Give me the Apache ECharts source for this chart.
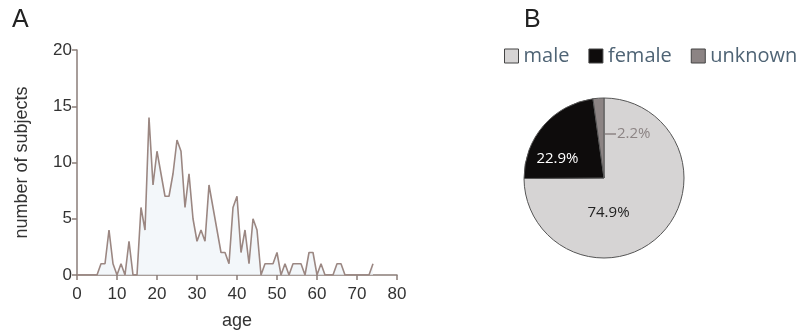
<!DOCTYPE html>
<html>
<head>
<meta charset="utf-8">
<script src="https://cdn.jsdelivr.net/npm/echarts@6/dist/echarts.min.js"></script>
<style>
  html, body { margin: 0; padding: 0; background: #fff; }
  #main { width: 801px; height: 335px; }
</style>
</head>
<body>
<div id="main"></div>
<script>
// panel A: subjects per year of age
var ages = [];
for (var a = 0; a <= 74; a++) ages.push(a);
var subjects = [
  0, 0, 0, 0, 0, 0, 1, 1, 4, 1,
  0, 1, 0, 3, 0, 0, 6, 4, 14, 8,
  11, 9, 7, 7, 9, 12, 11, 6, 9, 5,
  3, 4, 3, 8, 6, 4, 2, 2, 1, 6,
  7, 2, 4, 1, 5, 4, 0, 1, 1, 1,
  2, 0, 1, 0, 1, 1, 1, 0, 2, 2,
  0, 1, 0, 0, 0, 1, 1, 0, 0, 0,
  0, 0, 0, 0, 1
];
var xTicks = [0, 10, 20, 30, 40, 50, 60, 70, 80];
var yTicks = [0, 5, 10, 15, 20];

// panel B: sex split (percent)
var sexNames = ['male', 'female', 'unknown'];
var sexShares = [74.9, 22.9, 2.2];
var sexColors = ['#d6d4d4', '#0e0c0c', '#8c8484'];

var chart = echarts.init(document.getElementById('main'));

var axisColor = '#8a7d78';
var font = 'Liberation Sans, Arial, sans-serif';
var lineData = ages.map(function (age, i) { return [age, subjects[i]]; });

// nudge the inside labels to where the original puts them
var labelShift = [[-26, 4], [-14, 9], [0, 0]];

var option = {
  animation: false,
  title: [
    { text: 'A', left: 7, top: 3, textStyle: { fontFamily: font, fontSize: 25, fontWeight: 'normal', color: '#222' } },
    { text: 'B', left: 519, top: 3, textStyle: { fontFamily: font, fontSize: 25, fontWeight: 'normal', color: '#222' } }
  ],
  legend: {
    data: sexNames,
    left: 504,
    top: 46,
    width: 297,
    padding: 0,
    itemWidth: 14,
    itemHeight: 14,
    itemGap: 19,
    icon: 'rect',
    textStyle: { fontFamily: 'Open Sans', fontSize: 20, color: '#4f6475' },
    itemStyle: { borderColor: '#444', borderWidth: 1 }
  },
  grid: { left: 77, right: 404, top: 50, bottom: 57 },
  xAxis: {
    type: 'value',
    min: 0,
    max: 80,
    interval: 10,
    name: 'age',
    nameLocation: 'middle',
    nameGap: 37,
    nameTextStyle: { fontFamily: font, fontSize: 18, color: '#333' },
    axisLine: { lineStyle: { color: axisColor, width: 1.5 } },
    axisTick: { length: 5, lineStyle: { color: axisColor, width: 1.5 } },
    axisLabel: { fontFamily: font, fontSize: 17, color: '#333', margin: 11,
      formatter: function (v) { return xTicks.indexOf(v) >= 0 ? String(v) : ''; } },
    splitLine: { show: false }
  },
  yAxis: {
    type: 'value',
    min: 0,
    max: 20,
    interval: 5,
    name: 'number of subjects',
    nameLocation: 'middle',
    nameRotate: 90,
    nameGap: 46,
    nameTextStyle: { fontFamily: font, fontSize: 18, color: '#333' },
    axisLine: { show: true, lineStyle: { color: axisColor, width: 1.5 } },
    axisTick: { show: true, length: 5, lineStyle: { color: axisColor, width: 1.5 } },
    axisLabel: { fontFamily: font, fontSize: 17, color: '#333', margin: 5,
      formatter: function (v) { return yTicks.indexOf(v) >= 0 ? String(v) : ''; } },
    splitLine: { show: false }
  },
  // short leader line for the 2.2% label
  graphic: [
    { type: 'line', shape: { x1: 605, y1: 134, x2: 616, y2: 134 }, style: { stroke: '#8c8484', lineWidth: 1.5 }, z: 10 }
  ],
  series: [
    {
      type: 'line',
      data: lineData,
      showSymbol: false,
      lineStyle: { color: '#9b8782', width: 1.6 },
      areaStyle: { color: '#eef3f8' }
    },
    {
      type: 'pie',
      center: [604, 178],
      radius: [0, 80],
      startAngle: 90,
      clockwise: true,
      data: sexNames.map(function (n, i) {
        return { name: n, value: sexShares[i], itemStyle: { color: sexColors[i] } };
      }),
      itemStyle: { borderColor: '#555', borderWidth: 1 },
      label: {
        position: 'inside',
        fontFamily: 'Open Sans',
        fontSize: 15,
        formatter: function (p) { return p.value.toFixed(1) + '%'; }
      },
      labelLine: { show: false },
      labelLayout: function (p) {
        if (p.dataIndex === 2) {
          return { x: 617, y: 134, align: 'left', verticalAlign: 'middle' };
        }
        var s = labelShift[p.dataIndex];
        return { dx: s[0], dy: s[1] };
      },
      emphasis: { disabled: true }
    }
  ]
};

// per-slice label colours
option.series[1].data[0].label = { color: '#222' };
option.series[1].data[1].label = { color: '#fff' };
option.series[1].data[2].label = { color: '#8c8484' };

chart.setOption(option);
</script>
</body>
</html>
